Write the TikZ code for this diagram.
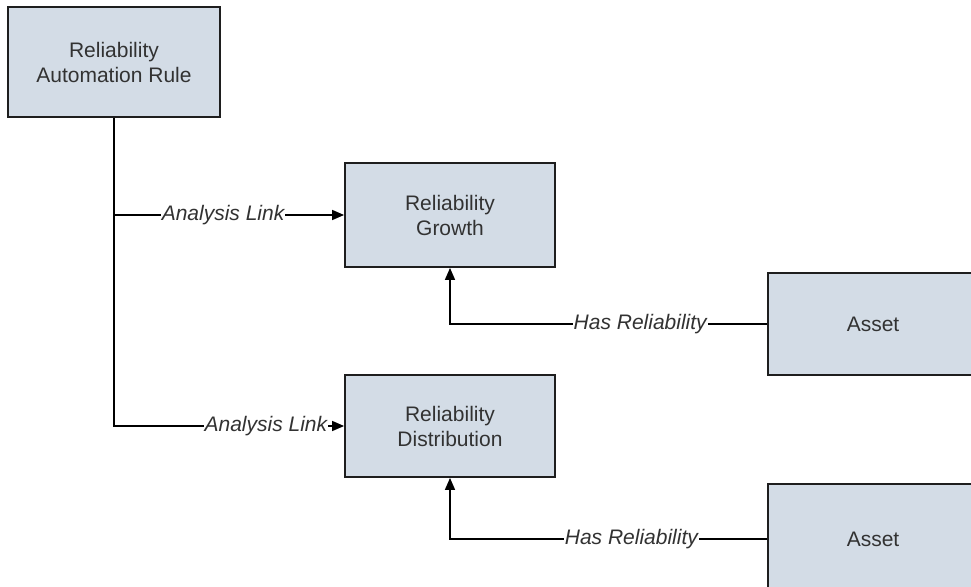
\documentclass[tikz,border=0pt]{standalone}
\usepackage{fontspec}
\setmainfont{Liberation Sans}
\usetikzlibrary{arrows.meta}
\definecolor{boxfill}{RGB}{211,220,230}
\definecolor{boxline}{RGB}{30,30,30}
\definecolor{txt}{RGB}{50,50,50}
\tikzset{
  entity/.style={draw=boxline, line width=1.8pt, fill=boxfill, text=txt,
    align=center, font=\fontsize{21}{25}\selectfont, inner sep=0pt},
  conn/.style={line width=1.5pt, draw=black},
  arr/.style={conn, -{Triangle[length=12pt,width=10pt]}},
  lbl/.style={fill=white, text=txt, inner sep=1pt,
    font=\fontsize{21}{25}\selectfont\itshape}
}
\begin{document}
\begin{tikzpicture}[x=1pt,y=-1pt]
\useasboundingbox (0,0) rectangle (971,586);
\clip (0,0) rectangle (971,586);
\node[entity, minimum width=212pt, minimum height=110pt] (rule) at (114,62) {Reliability\\Automation Rule};
\node[entity, minimum width=210pt, minimum height=104pt] (growth) at (450,215) {Reliability\\Growth};
\node[entity, minimum width=210pt, minimum height=102pt] (dist) at (450,426) {Reliability\\Distribution};
\node[entity, minimum width=220pt, minimum height=102pt] (asset1) at (878,324) {\hspace*{-10pt}Asset};
\node[entity, minimum width=220pt, minimum height=110pt] (asset2) at (878,539) {\hspace*{-10pt}Asset};
\draw[arr] (rule.south) |- node[lbl, pos=0.83] {Analysis Link} (dist.west);
\draw[arr] (rule.south |- growth.west) -- node[lbl, pos=0.474] {Analysis Link} (growth.west);
\draw[arr] (asset1.west) -| node[lbl, pos=0.2] {Has Reliability} (growth.south);
\draw[arr] (asset2.west) -| node[lbl, pos=0.214] {Has Reliability} (dist.south);
\end{tikzpicture}
\end{document}
